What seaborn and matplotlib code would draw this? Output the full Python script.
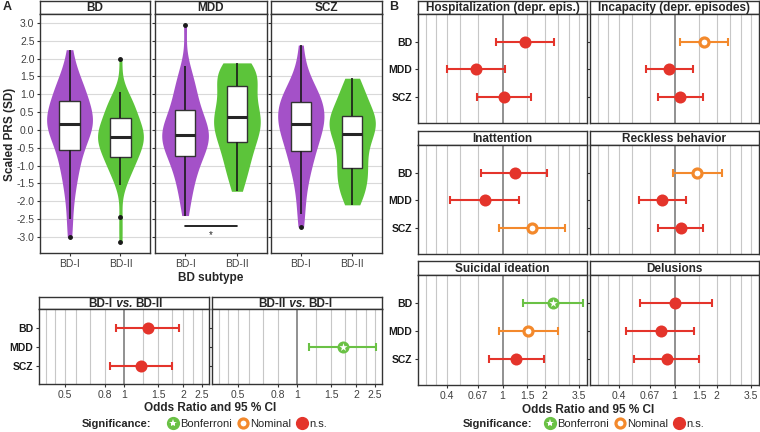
import numpy as np
import pandas as pd
import seaborn as sns
import matplotlib.pyplot as plt
from matplotlib.lines import Line2D

sns.set_theme(style="ticks")
plt.rcParams["font.family"] = ["Liberation Sans", "DejaVu Sans"]

# ---------------- data ----------------
subtypes = ["BD-I", "BD-II"]
prs_names = ["BD", "MDD", "SCZ"]

bd_bdi = [-3.0, -2.5, -2.0, -1.7, -1.45, -1.25, -1.1, -0.95, -0.8, -0.68, -0.55,
          -0.45, -0.35, -0.25, -0.15, -0.08, 0.0, 0.06, 0.1, 0.14, 0.18,
          0.22, 0.27, 0.32, 0.37, 0.42, 0.48, 0.55, 0.62, 0.72, 0.82,
          0.9, 0.98, 1.06, 1.14, 1.22, 1.3, 1.4, 1.55, 1.85, 2.25]
bd_bdii = [-3.15, -2.45, -1.55, -1.4, -1.25, -1.12, -1.02, -0.95, -0.88, -0.82, -0.75,
           -0.68, -0.6, -0.53, -0.47, -0.42, -0.37, -0.32, -0.28, -0.24, -0.2,
           -0.16, -0.12, -0.08, -0.04, 0.0, 0.05, 0.1, 0.17, 0.25, 0.33,
           0.4, 0.47, 0.55, 0.62, 0.7, 0.78, 0.86, 0.95, 1.05, 1.98]
mdd_bdi = [-2.4, -2.05, -1.8, -1.6, -1.42, -1.28, -1.15, -1.02, -0.92, -0.82, -0.72,
           -0.64, -0.57, -0.5, -0.44, -0.38, -0.33, -0.27, -0.22, -0.17, -0.13,
           -0.08, -0.03, 0.02, 0.08, 0.14, 0.2, 0.27, 0.35, 0.45, 0.55,
           0.65, 0.76, 0.88, 1.0, 1.12, 1.25, 1.4, 1.55, 1.8, 2.95]
mdd_bdii = [-1.72, -1.5, -1.3, -1.15, -1.0, -0.88, -0.76, -0.65, -0.54, -0.43, -0.33,
            -0.25, -0.17, -0.1, -0.03, 0.04, 0.11, 0.18, 0.24, 0.3, 0.35,
            0.41, 0.48, 0.55, 0.63, 0.72, 0.82, 0.92, 1.02, 1.12, 1.22,
            1.3, 1.38, 1.46, 1.54, 1.6, 1.66, 1.72, 1.78, 1.83, 1.88]
scz_bdi = [-2.72, -2.35, -1.95, -1.65, -1.42, -1.22, -1.06, -0.94, -0.82, -0.7, -0.6,
           -0.5, -0.4, -0.3, -0.22, -0.14, -0.07, 0.0, 0.06, 0.12, 0.18,
           0.24, 0.3, 0.36, 0.42, 0.48, 0.54, 0.6, 0.66, 0.72, 0.78,
           0.84, 0.9, 0.97, 1.05, 1.14, 1.24, 1.36, 1.52, 1.85, 2.38]
scz_bdii = [-2.1, -1.98, -1.86, -1.75, -1.64, -1.53, -1.43, -1.34, -1.25, -1.16, -1.08,
            -0.98, -0.88, -0.77, -0.66, -0.55, -0.44, -0.35, -0.26, -0.18, -0.1,
            -0.04, 0.02, 0.08, 0.13, 0.18, 0.23, 0.28, 0.32, 0.36, 0.4,
            0.48, 0.57, 0.66, 0.76, 0.86, 0.97, 1.08, 1.2, 1.32, 1.45]
prs_values = {"BD": [bd_bdi, bd_bdii], "MDD": [mdd_bdi, mdd_bdii], "SCZ": [scz_bdi, scz_bdii]}

# subtype comparison odds ratios
comp_titles = ["BD-I vs. BD-II", "BD-II vs. BD-I"]
comp_prs = [["BD", "SCZ"], ["MDD"]]
comp_or = [[1.32, 1.22], [1.71]]
comp_lo = [[0.91, 0.85], [1.15]]
comp_hi = [[1.90, 1.75], [2.54]]
comp_sig = [["n.s.", "n.s."], ["Bonferroni"]]

# symptom odds ratios (rows: BD, MDD, SCZ)
traits = ["Hospitalization (depr. epis.)", "Incapacity (depr. episodes)", "Inattention",
          "Reckless behavior", "Suicidal ideation", "Delusions"]
trait_or = [[1.45, 0.65, 1.03], [1.62, 0.92, 1.10], [1.23, 0.745, 1.62],
            [1.45, 0.82, 1.12], [2.29, 1.53, 1.25], [1.01, 0.80, 0.88]]
trait_lo = [[0.895, 0.40, 0.66], [1.10, 0.63, 0.76], [0.70, 0.42, 0.945],
            [0.98, 0.56, 0.76], [1.39, 0.945, 0.80], [0.57, 0.45, 0.51]]
trait_hi = [[2.33, 1.04, 1.60], [2.43, 1.36, 1.59], [2.08, 1.32, 2.78],
            [2.18, 1.21, 1.60], [3.73, 2.50, 1.97], [1.84, 1.38, 1.50]]
trait_sig = [["n.s.", "n.s.", "n.s."], ["Nominal", "n.s.", "n.s."], ["n.s.", "n.s.", "Nominal"],
             ["Nominal", "n.s.", "n.s."], ["Bonferroni", "Nominal", "n.s."], ["n.s.", "n.s.", "n.s."]]

ticks_A = [0.5, 0.8, 1, 1.5, 2, 2.5]
grid_A = [1 / 2.5, 1 / 2.25, 1 / 2, 1 / 1.75, 1 / 1.5, 1 / 1.25, 1.25, 1.5, 1.75, 2, 2.25, 2.5]
ticks_B = [0.4, 0.67, 1, 1.5, 2, 3.5]
grid_B = [1 / 3.5, 1 / 3, 1 / 2.5, 1 / 2, 1 / 1.5, 1.5, 2, 2.5, 3, 3.5]

PURPLE = "#A451C8"
GREEN = "#5CC43A"
sig_colors = {"Bonferroni": "#6AC145", "Nominal": "#F3892C", "n.s.": "#E4342B"}

W, H = 760, 432
fig = plt.figure(figsize=(7.6, 4.32), dpi=100)


def box(x0, y0, x1, y1):
    return [x0 / W, 1 - y1 / H, (x1 - x0) / W, (y1 - y0) / H]


def style_spines(ax):
    for s in ax.spines.values():
        s.set_visible(True)
        s.set_color("0.2")
        s.set_linewidth(1.0)


def strip(x0, y0, x1, y1, label):
    a = fig.add_axes(box(x0, y0, x1, y1))
    a.set_xticks([])
    a.set_yticks([])
    style_spines(a)
    if " vs. " in label:
        left, right = label.split(" vs. ")
        mid = a.text(0.5, 0.45, " vs. ", ha="center", va="center", fontsize=8.5,
                     fontweight="bold", style="italic")
        a.annotate(left, xy=(0, 0), xycoords=mid, ha="right", va="bottom",
                   fontsize=8.5, fontweight="bold")
        a.annotate(right, xy=(1, 0), xycoords=mid, ha="left", va="bottom",
                   fontsize=8.5, fontweight="bold")
    else:
        a.text(0.5, 0.45, label, ha="center", va="center", fontsize=8.5, fontweight="bold")
    return a


# ---------------- panel A: violins ----------------
violin_x = [(40, 150), (155, 267), (271, 382)]
for i, p in enumerate(prs_names):
    rows = []
    for s, vals in zip(subtypes, prs_values[p]):
        rows += [{"subtype": s, "prs": v} for v in vals]
    df = pd.DataFrame(rows)
    x0, x1 = violin_x[i]
    strip(x0, 1, x1, 14, p)
    ax = fig.add_axes(box(x0, 14, x1, 253))
    ax.set_axisbelow(True)
    ax.yaxis.grid(True, color="0.85", lw=0.8)
    sns.violinplot(data=df, x="subtype", y="prs", hue="subtype", order=subtypes,
                   hue_order=subtypes, palette=[PURPLE, GREEN], inner=None, cut=0,
                   density_norm="width", width=0.9, linewidth=0, bw_adjust=0.85,
                   saturation=1, legend=False, ax=ax)
    sns.boxplot(data=df, x="subtype", y="prs", order=subtypes, color="white",
                width=0.4, linewidth=1.0, linecolor="0.2", fliersize=2.5,
                medianprops=dict(linewidth=2.2, color="0.15"),
                whiskerprops=dict(linewidth=1.2, color="0.1"),
                capprops=dict(visible=False),
                flierprops=dict(marker="o", markerfacecolor="0.1", markeredgecolor="0.1"),
                ax=ax)
    ax.set_xlim(-0.58, 1.58)
    ax.set_ylim(-3.45, 3.25)
    ax.set_yticks(np.arange(-3, 3.01, 0.5))
    if i == 0:
        ax.set_yticklabels([f"{t:.1f}" for t in np.arange(-3, 3.01, 0.5)])
    else:
        ax.set_yticklabels([])
    ax.set_xlabel("")
    ax.set_ylabel("")
    ax.tick_params(length=2.5, width=0.8, color="0.2", labelsize=7.5, pad=1.5,
                   labelcolor="0.25")
    style_spines(ax)
    if p == "MDD":
        ax.plot([0, 1], [-2.68, -2.68], color="black", lw=1.2)
        ax.text(0.5, -2.95, "*", ha="center", va="center", fontsize=7)

fig.text(10 / W, 1 - 134 / H, "Scaled PRS (SD)", rotation=90, ha="center", va="center",
         fontsize=8.5, fontweight="bold")
fig.text(211 / W, 1 - 278 / H, "BD subtype", ha="center", va="center",
         fontsize=8.5, fontweight="bold")


# ---------------- forest plots ----------------
def forest(ax, prs_list, ors, los, his, sigs, ticks, grid_vals, lim, show_y):
    ax.set_xscale("log")
    for g in grid_vals:
        ax.axvline(g, color="0.78", lw=0.8, zorder=0)
    ax.axvline(1, color="0.45", lw=1.1, zorder=0)
    df = pd.DataFrame({"prs": prs_list, "or": ors, "lo": los, "hi": his, "sig": sigs})
    df["pos"] = [prs_names.index(p) for p in prs_list]
    for _, r in df.iterrows():
        ax.errorbar(r["or"], r["pos"], xerr=[[r["or"] - r["lo"]], [r["hi"] - r["or"]]],
                    fmt="none", ecolor=sig_colors[r["sig"]], elinewidth=1.5,
                    capsize=3, capthick=1.5, zorder=2)
    ns = df[df["sig"] == "n.s."]
    nom = df[df["sig"] == "Nominal"]
    bon = df[df["sig"] == "Bonferroni"]
    if len(ns):
        sns.scatterplot(data=ns, x="or", y="pos", s=75, color=sig_colors["n.s."],
                        linewidth=0, zorder=3, ax=ax)
    if len(nom):
        sns.scatterplot(data=nom, x="or", y="pos", s=42, color="white",
                        edgecolor=sig_colors["Nominal"], linewidth=2.3, zorder=3, ax=ax)
    if len(bon):
        sns.scatterplot(data=bon, x="or", y="pos", s=75, color=sig_colors["Bonferroni"],
                        linewidth=0, zorder=3, ax=ax)
        sns.scatterplot(data=bon, x="or", y="pos", s=38, marker="*", color="white",
                        linewidth=0, zorder=4, ax=ax)
    ax.set_xlim(lim)
    ax.set_ylim(2.95, -1.0)
    ax.set_xticks(ticks)
    ax.set_xticklabels([f"{t:g}" for t in ticks])
    ax.minorticks_off()
    ax.set_yticks(range(len(prs_names)))
    ax.set_yticklabels(prs_names if show_y else [], fontweight="bold", fontsize=8)
    ax.set_xlabel("")
    ax.set_ylabel("")
    ax.tick_params(length=2.5, width=0.8, color="0.2", labelsize=7.5, pad=1.5)
    ax.tick_params(axis="y", labelcolor="0.1")
    ax.tick_params(axis="x", labelcolor="0.25")
    style_spines(ax)


lim_A = (np.exp(-1.0), np.exp(1.0))
comp_x = [(39, 209), (212, 382)]
for j in range(2):
    x0, x1 = comp_x[j]
    strip(x0, 297, x1, 309, comp_titles[j])
    ax = fig.add_axes(box(x0, 309, x1, 384))
    forest(ax, comp_prs[j], comp_or[j], comp_lo[j], comp_hi[j], comp_sig[j],
           ticks_A, grid_A, lim_A, j == 0)

lim_B = (np.exp(-1.39), np.exp(1.39))
cols_B = [(418, 587), (590, 759)]
rows_B = [(1, 14, 123), (131, 145, 254), (261, 275, 385)]
for k, t in enumerate(traits):
    x0, x1 = cols_B[k % 2]
    h0, p0, p1 = rows_B[k // 2]
    strip(x0, h0, x1, p0, t)
    ax = fig.add_axes(box(x0, p0, x1, p1))
    forest(ax, prs_names, trait_or[k], trait_lo[k], trait_hi[k], trait_sig[k],
           ticks_B, grid_B, lim_B, k % 2 == 0)
    if k // 2 < 2:
        ax.set_xticklabels([])
        ax.tick_params(axis="x", length=0)

# axis titles, panel letters
fig.text(210 / W, 1 - 408 / H, "Odds Ratio and 95 % CI", ha="center", va="center",
         fontsize=8.5, fontweight="bold")
fig.text(588 / W, 1 - 410 / H, "Odds Ratio and 95 % CI", ha="center", va="center",
         fontsize=8.5, fontweight="bold")
fig.text(3 / W, 1 - 7 / H, "A", ha="left", va="center", fontsize=9, fontweight="bold")
fig.text(389 / W, 1 - 7 / H, "B", ha="left", va="center", fontsize=9, fontweight="bold")

# legends
handles = [
    (Line2D([], [], ls="none", marker="o", ms=8.5, color=sig_colors["Bonferroni"]),
     Line2D([], [], ls="none", marker="*", ms=6, color="white", mew=0)),
    Line2D([], [], ls="none", marker="o", ms=6.5, mfc="white",
           mec=sig_colors["Nominal"], mew=2.3),
    Line2D([], [], ls="none", marker="o", ms=8.5, color=sig_colors["n.s."]),
]
labels = ["Bonferroni", "Nominal", "n.s."]
for tx, lx, ly in [(82, 168, 424), (463, 545, 424)]:
    fig.text(tx / W, 1 - ly / H, "Significance:", ha="left", va="center",
             fontsize=8, fontweight="bold")
    fig.legend(handles, labels, loc="center left", bbox_to_anchor=(lx / W, 1 - ly / H),
               ncol=3, frameon=False, handlelength=0.9, handletextpad=0.15,
               columnspacing=0.6, fontsize=8, borderpad=0, borderaxespad=0)

fig.savefig("out.png", dpi=100)
